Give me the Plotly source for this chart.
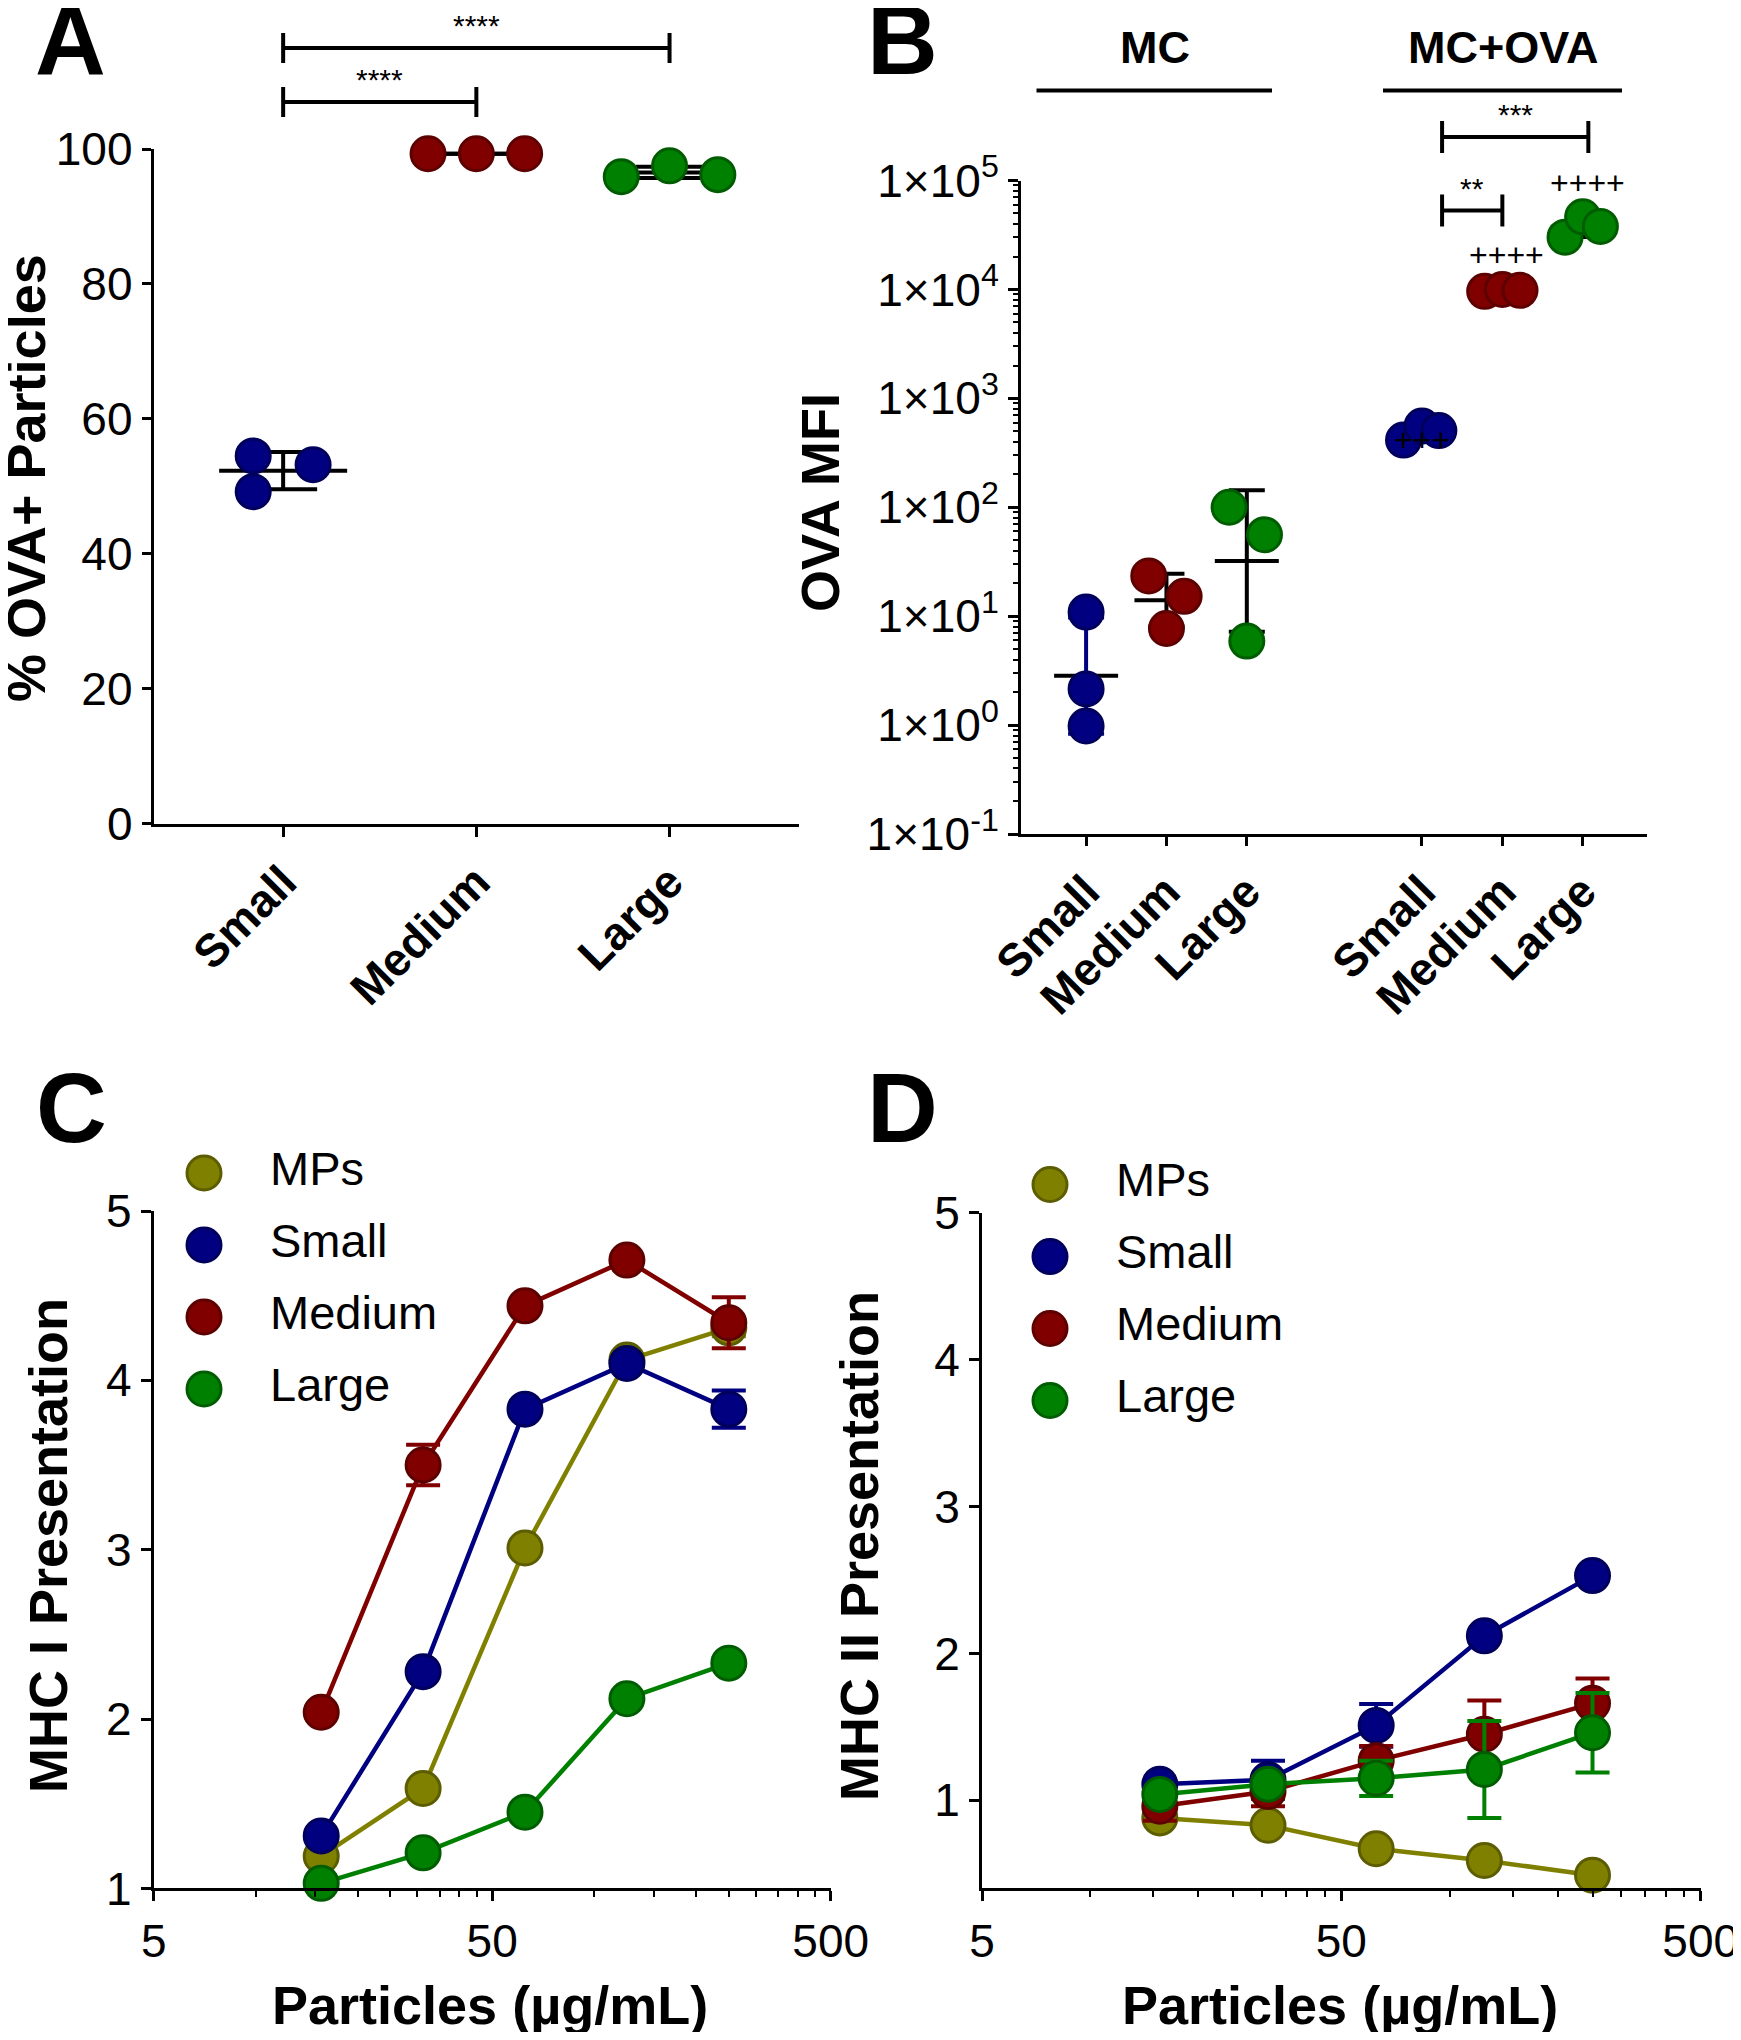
import numpy as np
import plotly.graph_objects as go

W, H = 1741, 2040
OFF = 8  # the page body adds an 8 px margin around the figure
WF, HF = W - OFF, H - 2 * OFF  # figure size that fits the window without scrollbars
FONT = "Liberation Sans, Arial, Helvetica, sans-serif"

# ---------------- colours ----------------
FILL = {"MPs": "#808000", "Small": "#000080", "Medium": "#800000", "Large": "#008000"}
EDGE = {"MPs": "#5c5c00", "Small": "#00005c", "Medium": "#5c0000", "Large": "#005c00"}

# ---------------- Panel A data ----------------
A_CATEGORIES = ["Small", "Medium", "Large"]
A_SMALL = [54.5, 49.2, 53.2]
A_MEDIUM = [99.3, 99.3, 99.3]
A_LARGE = [95.9, 97.5, 96.2]
A_YTICKS = [0, 20, 40, 60, 80, 100]
A_SIG = [("****", 0, 2), ("****", 0, 1)]

# ---------------- Panel B data ----------------
B_GROUPS = ["MC", "MC+OVA"]
B_CATEGORIES = ["Small", "Medium", "Large"]
B_MC_SMALL = [10.9, 2.15, 0.98]
B_MC_MEDIUM = [23.4, 7.7, 15.2]
B_MC_LARGE = [100.0, 5.9, 56.0]
B_OVA_SMALL = [414.0, 556.0, 506.0]
B_OVA_MEDIUM = [9600.0, 10000.0, 9800.0]
B_OVA_LARGE = [30200.0, 46400.0, 37900.0]
B_YTICK_EXP = [-1, 0, 1, 2, 3, 4, 5]
B_PLUS = ["+++", "++++", "++++"]
B_SIG = [("***", "Small", "Large"), ("**", "Small", "Medium")]

# ---------------- Panels C / D data ----------------
DOSE = [15.625, 31.25, 62.5, 125, 250]
SERIES = ["MPs", "Small", "Medium", "Large"]
C_MPS = [1.19, 1.59, 3.01, 4.12, 4.31]
C_SMALL = [1.31, 2.28, 3.83, 4.10, 3.83]
C_MEDIUM = [2.04, 3.50, 4.44, 4.71, 4.34]
C_LARGE = [1.03, 1.21, 1.45, 2.12, 2.33]
C_MPS_ERR = [0.03, 0.03, 0.03, 0.03, 0.05]
C_SMALL_ERR = [0.03, 0.03, 0.03, 0.03, 0.11]
C_MEDIUM_ERR = [0.03, 0.12, 0.03, 0.03, 0.15]
C_LARGE_ERR = [0.03, 0.03, 0.03, 0.03, 0.03]

D_MPS = [0.88, 0.83, 0.67, 0.59, 0.49]
D_SMALL = [1.11, 1.14, 1.51, 2.12, 2.53]
D_MEDIUM = [0.96, 1.06, 1.27, 1.45, 1.66]
D_LARGE = [1.04, 1.11, 1.15, 1.21, 1.46]
D_MPS_ERR = [0.02, 0.02, 0.02, 0.02, 0.02]
D_SMALL_ERR = [0.03, 0.13, 0.145, 0.03, 0.03]
D_MEDIUM_ERR = [0.10, 0.10, 0.10, 0.23, 0.17]
D_LARGE_ERR = [0.03, 0.03, 0.12, 0.33, 0.27]

DOSE_TICKS = [5, 50, 500]
DOSE_MINOR = [10, 15, 20, 25, 30, 35, 40, 45, 100, 150, 200, 250, 300, 350, 400, 450]
CD_YTICKS = [1, 2, 3, 4, 5]

# ---------------- layout helpers (positions / styles) ----------------
A_JITTER = [[-0.155, -0.155, 0.155], [-0.25, 0.0, 0.25], [-0.25, 0.0, 0.25]]
B_JITTER = [[0.0, 0.0, 0.0], [-0.22, 0.0, 0.22], [-0.22, 0.0, 0.22],
            [-0.23, 0.0, 0.21], [-0.22, 0.0, 0.22], [-0.22, 0.0, 0.22]]
B_GROUP_OFFSET = 4.18
MS = 34
LINE_EW = 1.4  # plotly draws 'line-ew' 1.4x the marker size


def px(x):
    return (x - OFF) / WF


def py(y):
    return 1 - (y - OFF) / HF


fig = go.Figure()

BLACK = "black"
AX = dict(showline=True, linecolor=BLACK, linewidth=3, ticks="outside", tickcolor=BLACK,
          tickwidth=3, showgrid=False, zeroline=False, mirror=False, automargin=False,
          tickfont=dict(family=FONT, size=46, color=BLACK))

# ================= Panel A =================
a_values = [A_SMALL, A_MEDIUM, A_LARGE]
for i, (cat, vals) in enumerate(zip(A_CATEGORIES, a_values)):
    m = float(np.mean(vals))
    sd = float(np.std(vals, ddof=1))
    fig.add_trace(go.Scatter(
        x=[i], y=[m], mode="markers", xaxis="x", yaxis="y", showlegend=False,
        cliponaxis=False,
        marker=dict(symbol="line-ew", size=128 / LINE_EW, color=BLACK,
                    line=dict(width=4, color=BLACK)),
        error_y=dict(type="data", array=[sd], visible=True, color=BLACK, thickness=4, width=34)))
for i, (cat, vals) in enumerate(zip(A_CATEGORIES, a_values)):
    fig.add_trace(go.Scatter(
        x=[i + j for j in A_JITTER[i]], y=vals, mode="markers", xaxis="x", yaxis="y",
        showlegend=False, cliponaxis=False,
        marker=dict(size=MS, color=FILL[cat], line=dict(width=3, color=EDGE[cat]))))

# ================= Panel B =================
b_values = [B_MC_SMALL, B_MC_MEDIUM, B_MC_LARGE, B_OVA_SMALL, B_OVA_MEDIUM, B_OVA_LARGE]
b_pos = [g * B_GROUP_OFFSET + k for g in range(len(B_GROUPS)) for k in range(len(B_CATEGORIES))]
b_cats = [c for _ in B_GROUPS for c in B_CATEGORIES]
b_err_col = [FILL["Small"], BLACK, BLACK, BLACK, BLACK, BLACK]
for idx, vals in enumerate(b_values):
    lv = np.log10(vals)
    gm = 10 ** lv.mean()
    gsd = 10 ** lv.std(ddof=1)
    fig.add_trace(go.Scatter(
        x=[b_pos[idx]], y=[gm], mode="markers", xaxis="x2", yaxis="y2", showlegend=False,
        cliponaxis=False,
        marker=dict(symbol="line-ew", size=64 / LINE_EW, color=BLACK,
                    line=dict(width=4, color=BLACK)),
        error_y=dict(type="data", symmetric=False, array=[gm * gsd - gm],
                     arrayminus=[gm - gm / gsd], visible=True, color=b_err_col[idx],
                     thickness=4, width=18)))
for idx, vals in enumerate(b_values):
    cat = b_cats[idx]
    fig.add_trace(go.Scatter(
        x=[b_pos[idx] + j for j in B_JITTER[idx]], y=vals, mode="markers", xaxis="x2",
        yaxis="y2", showlegend=False, cliponaxis=False,
        marker=dict(size=MS, color=FILL[cat], line=dict(width=3, color=EDGE[cat]))))

# ================= Panels C & D =================
c_sets = [(C_MPS, C_MPS_ERR), (C_SMALL, C_SMALL_ERR), (C_MEDIUM, C_MEDIUM_ERR), (C_LARGE, C_LARGE_ERR)]
d_sets = [(D_MPS, D_MPS_ERR), (D_SMALL, D_SMALL_ERR), (D_MEDIUM, D_MEDIUM_ERR), (D_LARGE, D_LARGE_ERR)]
for sets, xa, ya in [(c_sets, "x3", "y3"), (d_sets, "x4", "y4")]:
    for name, (vals, err) in zip(SERIES, sets):
        fig.add_trace(go.Scatter(
            x=DOSE, y=vals, mode="lines+markers", xaxis=xa, yaxis=ya, showlegend=False,
            cliponaxis=False, name=name,
            line=dict(color=FILL[name], width=4.5),
            marker=dict(size=MS, color=FILL[name], line=dict(width=3, color=EDGE[name])),
            error_y=dict(type="data", array=err, visible=True, color=FILL[name],
                         thickness=4, width=17)))

# ---- manual legends (C: axis 5, D: axis 6) ----
LEG_STEP = 72
for xa, ya, mx in [("x5", "y5", 204), ("x6", "y6", 1050)]:
    rows = [i * LEG_STEP for i in range(len(SERIES))]
    for name, r in zip(SERIES, rows):
        fig.add_trace(go.Scatter(
            x=[mx], y=[r], mode="markers", xaxis=xa, yaxis=ya, showlegend=False,
            cliponaxis=False,
            marker=dict(size=MS, color=FILL[name], line=dict(width=3, color=EDGE[name]))))
    fig.add_trace(go.Scatter(
        x=[mx + 66] * len(SERIES), y=rows, mode="text", text=SERIES, xaxis=xa, yaxis=ya,
        showlegend=False, cliponaxis=False, textposition="middle right",
        marker=dict(size=1),
        textfont=dict(family=FONT, size=47, color=BLACK)))

# ================= Axes =================
layout = dict(
    width=WF, height=HF, paper_bgcolor="white", plot_bgcolor="rgba(0,0,0,0)",
    margin=dict(l=0, r=0, t=0, b=0, pad=0, autoexpand=False), showlegend=False,
    font=dict(family=FONT, color=BLACK),
)

layout["xaxis"] = dict(AX, domain=[px(153.7), px(799)], range=[-0.67, 2.67], anchor="y",
                       tickvals=list(range(len(A_CATEGORIES))), ticktext=A_CATEGORIES,
                       tickangle=-45, ticklen=10,
                       tickfont=dict(family=FONT, size=46, color=BLACK, weight="bold"))
layout["yaxis"] = dict(AX, domain=[py(823.5), py(149)], range=[0, 100], anchor="x",
                       tickvals=A_YTICKS, ticklen=9)

b_tickvals = [10.0 ** e for e in B_YTICK_EXP]
b_ticktext = ["1×10<sup>%d</sup>" % e for e in B_YTICK_EXP]
b_minor = [k * 10.0 ** e for e in B_YTICK_EXP[:-1] for k in range(2, 10)]
layout["xaxis2"] = dict(AX, domain=[px(1021), px(1647)], range=[-0.81, 6.98], anchor="y2",
                        tickvals=b_pos, ticktext=b_cats, tickangle=-45, ticklen=9,
                        tickfont=dict(family=FONT, size=46, color=BLACK, weight="bold"))
layout["yaxis2"] = dict(AX, type="log", domain=[py(834), py(180.5)], range=[-1, 5], anchor="x2",
                        tickvals=b_tickvals, ticktext=b_ticktext, ticklen=10,
                        minor=dict(tickvals=b_minor, ticks="outside", ticklen=5, tickwidth=2,
                                   tickcolor=BLACK))

for xa, ya, xd, yd, yr in [("xaxis3", "yaxis3", [153.7, 830.7], [1888.4, 1211], [1, 5]),
                           ("xaxis4", "yaxis4", [982, 1700.7], [1888.4, 1212.9], [0.4, 5])]:
    layout[xa] = dict(AX, type="log", domain=[px(xd[0]), px(xd[1])],
                      range=[np.log10(DOSE_TICKS[0]), np.log10(DOSE_TICKS[-1])],
                      anchor=ya.replace("axis", ""), tickvals=DOSE_TICKS,
                      ticktext=[str(t) for t in DOSE_TICKS], ticklen=10,
                      minor=dict(tickvals=DOSE_MINOR, ticks="outside", ticklen=6, tickwidth=2,
                                 tickcolor=BLACK))
    layout[ya] = dict(AX, domain=[py(yd[0]), py(yd[1])], range=yr,
                      anchor=xa.replace("axis", ""), tickvals=CD_YTICKS, ticklen=10)

# legend axes (1 unit = 1 px)
for xa, ya, x0, y0 in [("xaxis5", "yaxis5", 150, 1173), ("xaxis6", "yaxis6", 996, 1184.5)]:
    layout[xa] = dict(domain=[px(x0), px(x0 + 400)], range=[x0, x0 + 400], visible=False,
                      anchor=ya.replace("axis", ""), fixedrange=True, automargin=False)
    layout[ya] = dict(domain=[py(y0 + 300), py(y0 - 50)], range=[300, -50], visible=False,
                      anchor=xa.replace("axis", ""), fixedrange=True, automargin=False)

fig.update_layout(**layout)

# ================= Shapes (brackets, header lines) =================
shapes = []
LW = 4
HALF = 15
a_bracket_y = [48, 102]
for (lab, i0, i1), yb in zip(A_SIG, a_bracket_y):
    shapes.append(dict(type="line", xref="x", yref="paper", x0=i0, x1=i1, y0=py(yb), y1=py(yb),
                       line=dict(color=BLACK, width=LW)))
    for xi in (i0, i1):
        shapes.append(dict(type="line", xref="x", yref="paper", x0=xi, x1=xi,
                           y0=py(yb - HALF), y1=py(yb + HALF), line=dict(color=BLACK, width=LW)))

cat_idx = {c: k for k, c in enumerate(B_CATEGORIES)}
ova0 = B_GROUP_OFFSET
b_bracket = [(137, 0.25, 0.07), (210.5, 0.25, 0.0)]
for (lab, c0, c1), (yb, o0, o1) in zip(B_SIG, b_bracket):
    xa0 = ova0 + cat_idx[c0] + o0
    xa1 = ova0 + cat_idx[c1] + o1
    shapes.append(dict(type="line", xref="x2", yref="paper", x0=xa0, x1=xa1, y0=py(yb), y1=py(yb),
                       line=dict(color=BLACK, width=LW)))
    for xi in (xa0, xa1):
        shapes.append(dict(type="line", xref="x2", yref="paper", x0=xi, x1=xi,
                           y0=py(yb - 16), y1=py(yb + 16), line=dict(color=BLACK, width=LW)))

header_spans = [(1036.5, 1272), (1383, 1622)]
for x0, x1 in header_spans:
    shapes.append(dict(type="line", xref="paper", yref="paper", x0=px(x0), x1=px(x1),
                       y0=py(90.6), y1=py(90.6), line=dict(color=BLACK, width=LW)))

# ================= Annotations =================
ann = []


def text(x, y, s, size, bold=False, angle=0, xanchor="center", yanchor="middle", xref="paper"):
    ann.append(dict(x=x, y=y, xref=xref, yref="paper", text=s, showarrow=False,
                    textangle=angle, xanchor=xanchor, yanchor=yanchor,
                    font=dict(family=FONT, size=size, color=BLACK,
                              weight="bold" if bold else "normal")))


# panel letters
for lab, cx, cy in [("A", 70, 40), ("B", 902, 40), ("C", 72, 1108), ("D", 902, 1108)]:
    text(px(cx), py(cy), lab, 98, bold=True)

# axis titles
text(px(26), py(478), "% OVA+ Particles", 54, bold=True, angle=-90)
text(px(820), py(503), "OVA MFI", 54, bold=True, angle=-90)
text(px(48), py(1546), "MHC I Presentation", 54, bold=True, angle=-90)
text(px(859), py(1546), "MHC II Presentation", 54, bold=True, angle=-90)
text(px(490), py(2005), "Particles (µg/mL)", 54, bold=True)
text(px(1340), py(2005), "Particles (µg/mL)", 54, bold=True)

# significance stars
for (lab, i0, i1), yb in zip(A_SIG, a_bracket_y):
    text((i0 + i1) / 2, py(yb - 4), lab, 30, yanchor="bottom", xref="x")
for (lab, c0, c1), (yb, o0, o1) in zip(B_SIG, b_bracket):
    xm = ova0 + (cat_idx[c0] + o0 + cat_idx[c1] + o1) / 2
    text(xm, py(yb - 4), lab, 30, yanchor="bottom", xref="x2")

# plus signs above MC+OVA groups
plus_y = [440, 255, 183]
plus_dx = [0.0, 0.05, 0.06]
for k, (lab, yv, dx) in enumerate(zip(B_PLUS, plus_y, plus_dx)):
    text(ova0 + k + dx, py(yv), lab, 32, xref="x2")

# group headers
for g, cx in zip(B_GROUPS, [1154.7, 1502.6]):
    text(px(cx), py(48), g, 45, bold=True)

fig.update_layout(shapes=shapes, annotations=ann)
fig.write_html("out.html")
